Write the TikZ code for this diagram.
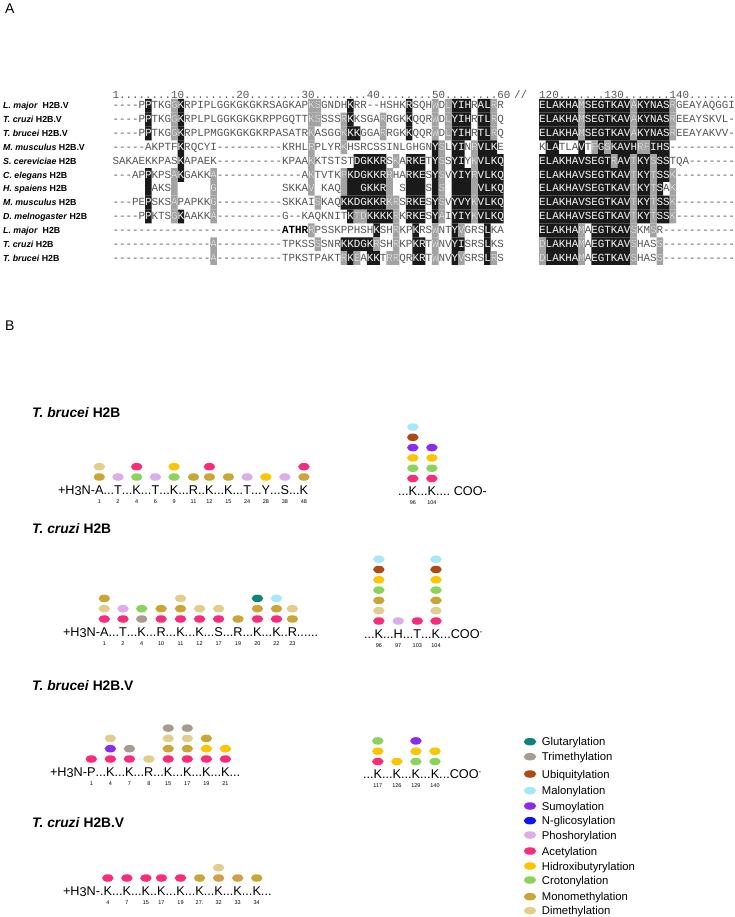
\documentclass[tikz,border=0pt]{standalone}
\usepackage{fontspec}
\setmainfont{Liberation Sans}
\newfontfamily\almono{Liberation Mono}[Ligatures=TeXOff]
\usetikzlibrary{shapes.geometric,calc}
\definecolor{glu}{HTML}{0F827A}
\definecolor{tri}{HTML}{A89B90}
\definecolor{ubi}{HTML}{AE4A12}
\definecolor{mal}{HTML}{A6E8FA}
\definecolor{sumo}{HTML}{8A2BF2}
\definecolor{nglc}{HTML}{0A14F5}
\definecolor{phos}{HTML}{DDADEA}
\definecolor{ace}{HTML}{F72D7B}
\definecolor{hyd}{HTML}{FBC600}
\definecolor{cro}{HTML}{8CD35E}
\definecolor{mono}{HTML}{C9A636}
\definecolor{di}{HTML}{E3CD8C}
\definecolor{monoalt}{HTML}{D29E48}
\definecolor{alk}{HTML}{1A1A1A}
\definecolor{alg}{HTML}{A3A3A3}
\definecolor{altxt}{HTML}{555555}
\definecolor{alw}{HTML}{E8E8E8}
\tikzset{
 alt/.style={anchor=base west, inner sep=0, outer sep=0, font=\almono\fontsize{10.87}{11}\selectfont},
 lab/.style={anchor=base west, inner sep=0, font=\fontsize{8.8}{9}\selectfont\bfseries},
 sq/.style={anchor=base west, inner sep=0, outer sep=0, font=\fontsize{12.7}{13}\selectfont},
 num/.style={anchor=center, inner sep=0, font=\fontsize{5.5}{6}\selectfont},
 ptm/.style={ellipse, minimum width=11.5pt, minimum height=7.5pt, inner sep=0, draw=none},
 ttl/.style={anchor=base west, inner sep=0, font=\fontsize{13.8}{14}\selectfont\bfseries},
 leg/.style={anchor=base west, inner sep=0, font=\fontsize{11.3}{12}\selectfont},
 pnl/.style={anchor=base west, inner sep=0, font=\fontsize{14}{14}\selectfont},
}
\def\xL{112.5}\def\xR{539.2}\def\cw{6.52}\def\rh{6.93}\def\alb{3.1}
\newcommand\dtwo{..}
\newcommand\dthree{...}
\newcommand\dfour{....}
\newcommand\dsix{......}
% #1 name, #2 x0, #3 y centre, #4 text, #5 black cells, #6 grey cells
\newcommand\alseg[6]{%
  \fill[alk] foreach \ca/\cb in {#5} {({#2+(\ca-1)*\cw},{#3-\rh}) rectangle ({#2+\cb*\cw},{#3+\rh})};
  \fill[alg] foreach \ca/\cb in {#6} {({#2+(\ca-1)*\cw},{#3-\rh}) rectangle ({#2+\cb*\cw},{#3+\rh})};
  \node[alt, text=altxt] (#1) at (#2,#3+\alb) {#4};
  \begin{scope}
    \clip foreach \ca/\cb in {#5,#6} {({#2+(\ca-1)*\cw},{#3-\rh}) rectangle ({#2+\cb*\cw},{#3+\rh})};
    \node[alt, text=alw] (#1w) at (#2,#3+\alb) {#4};
  \end{scope}}
\newcommand\alabel[4]{\node[lab] (#1) at (3,#2+3.2) {\textit{#3}#4};}
\newcommand\seqchain[2]{%
  \foreach \res/\nm/\dts [count=\i, remember=\i as \j (initially 0)] in {#2} {
    \node[sq] (#1-r\i) at (#1-d\j.base east) {\res};
    \node[sq] (#1-d\i) at (#1-r\i.base east) {\dts};
    \node[num] (#1-n\i) at ($(#1-r\i.base)+(0,7.5)$) {\nm};
  }}
\newcommand\mods[2]{\foreach \mcol [count=\mi] in {#2} {\node[ptm, fill=\mcol] (#1-m\mi) at ($(#1.base)+(0,{-17-(\mi-1)*10.3})$) {};}}
\newcommand\coominus{COO\raisebox{4pt}{\fontsize{8}{8}\selectfont -}}
\begin{document}
\begin{tikzpicture}[x=1pt,y=-1pt]
\useasboundingbox (0,0) rectangle (735,917);
\fill[white] (0,0) rectangle (735,917);

\node[pnl] (pA) at (5,13.5) {A};
\node[pnl] (pB) at (5,330) {B};

% ---------- Panel A: alignment ----------
\node[alt, text=altxt] (hdrL) at (\xL,95.8+\alb) {1........10........20........30........40........50........60};
\node[alt, text=altxt] (hdrS) at (514,95.8+\alb) {//};
\node[alt, text=altxt] (hdrR) at (\xR,95.8+\alb) {120.......130.......140.......};

\alabel{lb1}{105.7}{L. major}{\ \ H2B.V}
\alabel{lb2}{119.55}{T. cruzi}{ H2B.V}
\alabel{lb3}{133.4}{T. brucei}{ H2B.V}
\alabel{lb4}{147.25}{M. musculus}{ H2B.V}
\alabel{lb5}{161.1}{S. cereviciae}{ H2B}
\alabel{lb6}{174.95}{C. elegans}{ H2B}
\alabel{lb7}{188.8}{H. spaiens}{ H2B}
\alabel{lb8}{202.65}{M. musculus}{ H2B}
\alabel{lb9}{216.5}{D. melnogaster}{ H2B}
\alabel{lb10}{230.35}{L. major}{\ \ H2B}
\alabel{lb11}{244.2}{T. cruzi}{ H2B}
\alabel{lb12}{258.05}{T. brucei}{ H2B}

\alseg{L1}{\xL}{105.7}{----PPTKGGKRPIPLGGKGKGKRSAGKAPKSGNDHKRR--HSHKRSQHWDLYIHRALRR}{6/6,11/11,37/37,46/46,53/55,57/58}{10/10,31/32,50/50,52/52,59/59}
\alseg{L2}{\xL}{119.55}{----PPTKGGKRPLPLGGKGKGKRPPGQTTKSSSSRKKSGARRGKKQQRWDLYIHRTLRQ}{6/6,11/11,37/37,46/46,53/55,57/58}{10/10,31/32,36/36,42/42,50/50,52/52,59/59}
\alseg{L3}{\xL}{133.4}{----PPTKGGKRPLPMGGKGKGKRPASATRKASGGKKKGGARRGKKQQRWDLYIHRTLRQ}{6/6,11/11,37/38,46/46,53/55,57/58}{10/10,31/31,36/36,42/42,50/50,52/52,59/59}
\alseg{L4}{\xL}{147.25}{-----AKPTFKRQCYI----------KRHLRPLYRKHSRCSSINLGHGNYSLYINRVLKE}{11/11,50/50,53/54,57/59}{31/31,36/36,51/51,56/56}
\alseg{L5}{\xL}{161.1}{SAKAEKKPASKAPAEK----------KPAAKKTSTSTDGKKRSKARKETYSSYIYKVLKQ}{11/11,38/42,46/48,50/50,53/54,57/60}{31/31,44/44,51/51,56/56}
\alseg{L6}{\xL}{174.95}{---APPKPSAKGAKKA-------------AKTVTKPKDGKKRRHARKESYSVYIYRVLKQ}{6/6,11/11,37/42,46/48,50/50,53/55,57/60}{10/10,16/16,31/31,36/36,43/43,51/51,56/56}
\alseg{L7}{\xL}{188.8}{~~~~~~AKS~~~~~~G~~~~~~~~~~SKKAV~KAQ~~~GKKR~~S~~~S~S~~~~~VLKQ}{6/6,37/42,46/48,50/50,53/55,57/60}{10/10,16/16,31/31,36/36,43/43,51/51,56/56}
\alseg{L8}{\xL}{202.65}{---PEPSKSAPAPKKG----------SKKAISKAQKKDGKKRKRSRKESYSVYVYKVLKQ}{6/6,36/42,46/48,50/50,53/55,57/60}{10/10,16/16,32/32,43/44,51/51,56/56}
\alseg{L9}{\xL}{216.5}{----PPKTSGKAAKKA----------G--KAQKNITKTDKKKKRKRKESYAIYIYKVLKQ}{6/6,11/11,37/37,40/43,46/48,50/50,53/55,57/60}{10/10,16/16,38/39,44/44,51/51,56/56}
\alseg{L10}{\xL}{230.35}{--------------------------\textcolor{black}{\textbf{ATHR}}RPSSKPPHSHKSHRKPKRSWNTYVGRSLKA}{41/41,47/47,53/53,58/58}{31/31,44/44,50/50,54/54}
\alseg{L11}{\xL}{244.2}{---------------A----------TPKSSSSNRKKDGKRSHRKPKRTWNVYISRSLKS}{36/40,47/48,53/54,58/58}{16/16,32/32,41/41,44/44,50/50}
\alseg{L12}{\xL}{258.05}{---------------A----------TPKSTPAKTRKEAKKTRRQRKRTWNVYVSRSLRS}{37/37,40/41,47/48,53/53,58/58}{16/16,36/36,38/38,43/44,50/50,54/54,59/59}

\alseg{R1}{\xR}{105.7}{ELAKHAMSEGTKAVAKYNASRGEAYAQGGI}{1/6,8/14,16/20}{7/7,15/15,21/21}
\alseg{R2}{\xR}{119.55}{ELAKHAMSEGTKAVAKYNASREEAYSKVL-}{1/6,8/14,16/20}{7/7,15/15,21/21}
\alseg{R3}{\xR}{133.4}{ELAKHAMSEGTKAVAKYNASREEAYAKVV-}{1/6,8/14,16/20}{7/7,15/15,21/21}
\alseg{R4}{\xR}{147.25}{KLATLAVTFGSKAVHRFIHS----------}{2/3,7/7,10/10,12/15,18/20}{9/9,11/11,16/17}
\alseg{R5}{\xR}{161.1}{ELAKHAVSEGTRAVTKYSSSTQA-------}{1/11,13/14,16/17,19/20}{12/12,15/15,18/18}
\alseg{R6}{\xR}{174.95}{ELAKHAVSEGTKAVTKYTSSK---------}{1/14,16/17,19/20}{15/15,18/18,21/21}
\alseg{R7}{\xR}{188.8}{ELAKHAVSEGTKAVTKYTSAK}{1/14,16/17,19/19}{15/15,18/18,21/21}
\alseg{R8}{\xR}{202.65}{ELAKHAVSEGTKAVTKYTSSK---------}{1/14,16/17,19/20}{15/15,18/18,21/21}
\alseg{R9}{\xR}{216.5}{ELAKHAVSEGTKAVTKYTSSK---------}{1/14,16/17,19/20}{15/15,18/18,21/21}
\alseg{R10}{\xR}{230.35}{ELAKHAMAEGTKAVSKMSR-----------}{1/6,9/14}{7/7,15/15,18/18}
\alseg{R11}{\xR}{244.2}{DLAKHAMAEGTKAVSHASS-----------}{2/6,9/14}{1/1,7/7,15/15,19/19}
\alseg{R12}{\xR}{258.05}{DLAKHAMAEGTKAVSHASS-----------}{2/6,9/14}{1/1,7/7,15/15,19/19}

% ---------- Panel B ----------
\node[ttl] (t1) at (32,417) {\textit{T. brucei} H2B};
\node[ttl] (t2) at (32,533) {\textit{T. cruzi} H2B};
\node[ttl] (t3) at (32,690) {\textit{T. brucei} H2B.V};
\node[ttl] (t4) at (32,827) {\textit{T. cruzi} H2B.V};

% T. brucei H2B
\node[sq] (b1-d0) at (58,494) {+H\raisebox{-1.6pt}{3}N-};
\seqchain{b1}{A/1/\dthree,T/2/\dthree,K/4/\dthree,T/6/\dthree,K/9/\dthree,R/11/\dtwo,K/12/\dthree,K/15/\dthree,T/24/\dthree,Y/28/\dthree,S/38/\dthree,K/48/{}}
\mods{b1-r1}{mono,di}
\mods{b1-r2}{phos}
\mods{b1-r3}{cro,ace}
\mods{b1-r4}{phos}
\mods{b1-r5}{cro,hyd}
\mods{b1-r6}{mono}
\mods{b1-r7}{mono,ace}
\mods{b1-r8}{mono}
\mods{b1-r9}{phos}
\mods{b1-r10}{hyd}
\mods{b1-r11}{phos}
\mods{b1-r12}{mono,ace}

\node[sq] (b2-d0) at (398,495.5) {\dthree};
\seqchain{b2}{K/96/\dthree,K/104/\dfour~COO-}
\mods{b2-r1}{ace,cro,hyd,sumo,ubi,mal}
\mods{b2-r2}{ace,cro,hyd,sumo}

% T. cruzi H2B
\node[sq] (c1-d0) at (63,636) {+H\raisebox{-1.6pt}{3}N-};
\seqchain{c1}{A/1/\dthree,T/2/\dthree,K/4/\dthree,R/10/\dthree,K/11/\dthree,K/12/\dthree,S/17/\dthree,R/19/\dthree,K/20/\dthree,K/22/\dtwo,R/23/\dsix}
\mods{c1-r1}{ace,di,mono}
\mods{c1-r2}{ace,phos}
\mods{c1-r3}{tri,cro}
\mods{c1-r4}{ace,mono}
\mods{c1-r5}{ace,mono,di}
\mods{c1-r6}{ace,di}
\mods{c1-r7}{ace,di}
\mods{c1-r8}{mono}
\mods{c1-r9}{ace,mono,glu}
\mods{c1-r10}{ace,mono,mal}
\mods{c1-r11}{mono,di}

\node[sq] (c2-d0) at (364,638) {\dthree};
\seqchain{c2}{K/96/\dthree,H/97/\dthree,T/103/\dthree,K/104/\dthree\coominus}
\mods{c2-r1}{ace,di,mono,cro,hyd,ubi,mal}
\mods{c2-r2}{phos}
\mods{c2-r3}{ace}
\mods{c2-r4}{ace,di,mono,cro,hyd,ubi,mal}

% T. brucei H2B.V
\node[sq] (v1-d0) at (50,776) {+H\raisebox{-1.6pt}{3}N-};
\seqchain{v1}{P/1/\dthree,K/4/\dthree,K/7/\dthree,R/8/\dthree,K/15/\dthree,K/17/\dthree,K/19/\dthree,K/21/\dthree}
\mods{v1-r1}{ace}
\mods{v1-r2}{ace,sumo,di}
\mods{v1-r3}{ace,tri}
\mods{v1-r4}{di}
\mods{v1-r5}{ace,mono,di,tri}
\mods{v1-r6}{ace,mono,di,tri}
\mods{v1-r7}{ace,hyd,mono}
\mods{v1-r8}{ace,hyd}

\node[sq] (v2-d0) at (363,778.5) {\dthree};
\seqchain{v2}{K/117/\dthree,K/126/\dthree,K/129/\dthree,K/140/\dthree\coominus}
\mods{v2-r1}{ace,hyd,cro}
\mods{v2-r2}{hyd}
\mods{v2-r3}{cro,hyd,sumo}
\mods{v2-r4}{cro,hyd}

% T. cruzi H2B.V
\node[sq] (w1-d0) at (63,895) {+H\raisebox{-1.6pt}{3}N-.};
\seqchain{w1}{K/4/\dthree,K/7/\dthree,K/15/\dtwo,K/17/\dthree,K/19/\dthree,K/27./\dthree,K/32/\dthree,K/33/\dthree,K/34/\dthree}
\mods{w1-r1}{ace}
\mods{w1-r2}{ace}
\mods{w1-r3}{ace}
\mods{w1-r4}{ace}
\mods{w1-r5}{ace}
\mods{w1-r6}{mono}
\mods{w1-r7}{monoalt,di}
\mods{w1-r8}{monoalt}
\mods{w1-r9}{mono}

% Legend
\foreach \lc/\lt/\ly [count=\li] in {glu/Glutarylation/741.7, tri/Trimethylation/756.7, ubi/Ubiquitylation/774, mal/Malonylation/790.7, sumo/Sumoylation/806, nglc/N-glicosylation/820.7, phos/Phoshorylation/835, ace/Acetylation/851, hyd/Hidroxibutyrylation/866, cro/Crotonylation/880, mono/Monomethylation/896.7, di/Dimethylation/910.7} {
  \node[ptm, minimum width=12.5pt, fill=\lc] (lg\li) at (530,\ly) {};
  \node[leg] (lt\li) at (541.7,\ly+4) {\lt};
}
\end{tikzpicture}
\end{document}
